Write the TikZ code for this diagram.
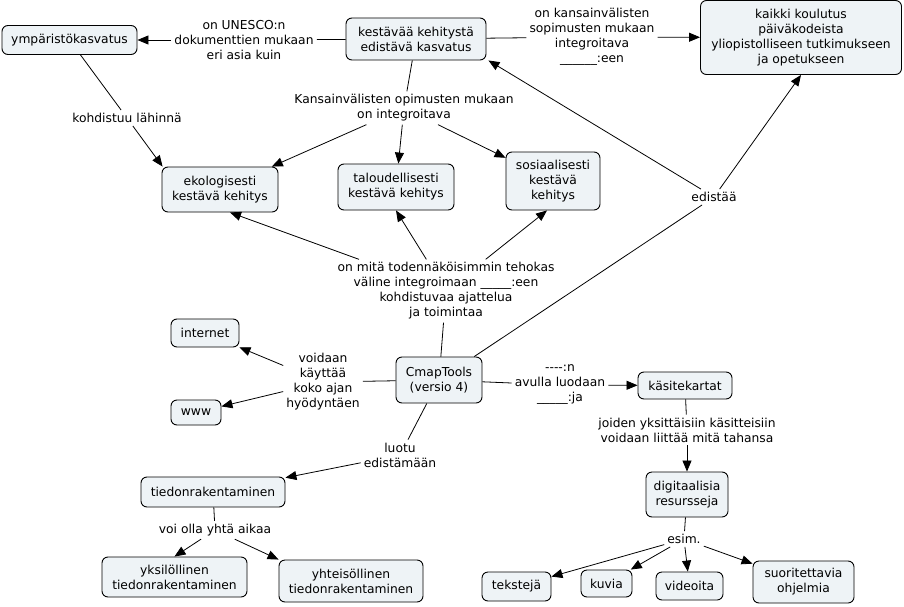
\documentclass[tikz,border=0pt]{standalone}
\usepackage{fontspec}
\setmainfont{DejaVu Sans}
\usetikzlibrary{arrows.meta}
\definecolor{boxfill}{RGB}{238,243,246}
\tikzset{
 cbox/.style={draw=black, fill=boxfill, rounded corners=6pt, align=center, inner sep=2pt, line width=0.9pt, font=\fontsize{12.3}{15}\selectfont},
 lab/.style={align=center, inner sep=3pt, font=\fontsize{12.3}{15}\selectfont},
 con/.style={line width=0.8pt},
 arr/.style={con, -{Triangle[length=11pt,width=9pt]}},
}
\begin{document}
\begin{tikzpicture}[x=1pt,y=-1pt]
\fill[white] (0,0) rectangle (904,607);
\useasboundingbox (0,0) rectangle (904,607);
% concepts
\node[cbox, minimum width=135pt, minimum height=29pt] (n1) at (69.5,40) {ympäristökasvatus};
\node[cbox, minimum width=140pt, minimum height=42pt] (n2) at (416,39) {kestävää kehitystä\\edistävä kasvatus};
\node[cbox, minimum width=201pt, minimum height=74pt] (n3) at (801,37.5) {kaikki koulutus\\päiväkodeista\\yliopistolliseen tutkimukseen\\ja opetukseen};
\node[cbox, minimum width=116pt, minimum height=45pt] (n4) at (220,189.5) {ekologisesti\\kestävä kehitys};
\node[cbox, minimum width=116pt, minimum height=46pt] (n5) at (396,187) {taloudellisesti\\kestävä kehitys};
\node[cbox, minimum width=94pt, minimum height=58pt] (n6) at (553,181) {sosiaalisesti\\kestävä\\kehitys};
\node[cbox, minimum width=68pt, minimum height=28pt] (n7) at (205,333) {internet};
\node[cbox, minimum width=50pt, minimum height=25pt] (n8) at (196,412.5) {www};
\node[cbox, minimum width=86pt, minimum height=46pt] (n9) at (439,380) {CmapTools\\(versio 4)};
\node[cbox, minimum width=94pt, minimum height=27pt] (n10) at (685,385.5) {käsitekartat};
\node[cbox, minimum width=82pt, minimum height=45pt] (n11) at (687,494.5) {digitaalisia\\resursseja};
\node[cbox, minimum width=144pt, minimum height=30pt] (n12) at (213,492) {tiedonrakentaminen};
\node[cbox, minimum width=145pt, minimum height=40pt] (n13) at (174.5,577) {yksilöllinen\\tiedonrakentaminen};
\node[cbox, minimum width=144pt, minimum height=42pt] (n14) at (351,581) {yhteisöllinen\\tiedonrakentaminen};
\node[cbox, minimum width=69pt, minimum height=29pt] (n15) at (516.5,586.5) {tekstejä};
\node[cbox, minimum width=51pt, minimum height=27pt] (n16) at (606.5,583.5) {kuvia};
\node[cbox, minimum width=67pt, minimum height=28pt] (n17) at (689.5,586) {videoita};
\node[cbox, minimum width=101pt, minimum height=42pt] (n18) at (803.5,582) {suoritettavia\\ohjelmia};
% link labels
\node[lab] (L1) at (244,40) {on UNESCO:n\\dokumenttien mukaan\\eri asia kuin};
\node[lab] (L2) at (592,37) {on kansainvälisten\\sopimusten mukaan\\integroitava\\\_\_\_\_\_\_:een};
\node[lab] (L3) at (404,108) {Kansainvälisten opimusten mukaan\\on integroitava};
\node[lab] (L4) at (127,118) {kohdistuu lähinnä};
\node[lab] (L5) at (714,197) {edistää};
\node[lab] (L6) at (446,291) {on mitä todennäköisimmin tehokas\\väline integroimaan \_\_\_\_\_:een\\kohdistuvaa ajattelua\\ja toimintaa};
\node[lab] (L7) at (323,382) {voidaan\\käyttää\\koko ajan\\hyödyntäen};
\node[lab] (L8) at (560,385) {-{}-{}-{}-:n\\avulla luodaan\\\_\_\_\_\_:ja};
\node[lab] (L9) at (687,430) {joiden yksittäisiin käsitteisiin\\voidaan liittää mitä tahansa};
\node[lab] (L10) at (400,455) {luotu\\edistämään};
\node[lab] (L11) at (215,530) {voi olla yhtä aikaa};
\node[lab] (L12) at (684,539) {esim.};
% connectors
\draw[con] (n2) -- (L1); \draw[arr] (L1) -- (n1);
\draw[con] (n2) -- (L2); \draw[arr] (L2) -- (n3);
\draw[con] (n2) -- (L3);
\draw[arr] (L3) -- (n4); \draw[arr] (L3) -- (n5); \draw[arr] (L3) -- (n6);
\draw[con] (n1) -- (L4); \draw[arr] (L4) -- ([xshift=1pt]n4.north west);
\draw[con] (n9) -- (L5); \draw[arr] (L5) -- (n3.south); \draw[arr] (L5) -- ([xshift=2pt]n2.south east);
\draw[con] (n9) -- (L6);
\draw[arr] (L6) -- ([xshift=10pt]n4.south); \draw[arr] (L6) -- (n5.south); \draw[arr] (L6) -- ([xshift=-6pt]n6.south);
\draw[con] (n9) -- (L7); \draw[arr] (L7) -- (n7); \draw[arr] (L7) -- (n8);
\draw[con] (n9) -- (L8); \draw[arr] (L8) -- (n10);
\draw[con] (n10) -- (L9); \draw[arr] (L9) -- (n11);
\draw[con] (n9) -- (L10); \draw[arr] (L10) -- (n12);
\draw[con] (n12) -- (L11); \draw[arr] (L11) -- (n13.north); \draw[arr] (L11) -- (n14.north west);
\draw[con] (n11) -- (L12);
\draw[arr] (L12) -- (n15); \draw[arr] (L12) -- (n16); \draw[arr] (L12) -- (n17); \draw[arr] (L12) -- (n18);
\end{tikzpicture}
\end{document}
